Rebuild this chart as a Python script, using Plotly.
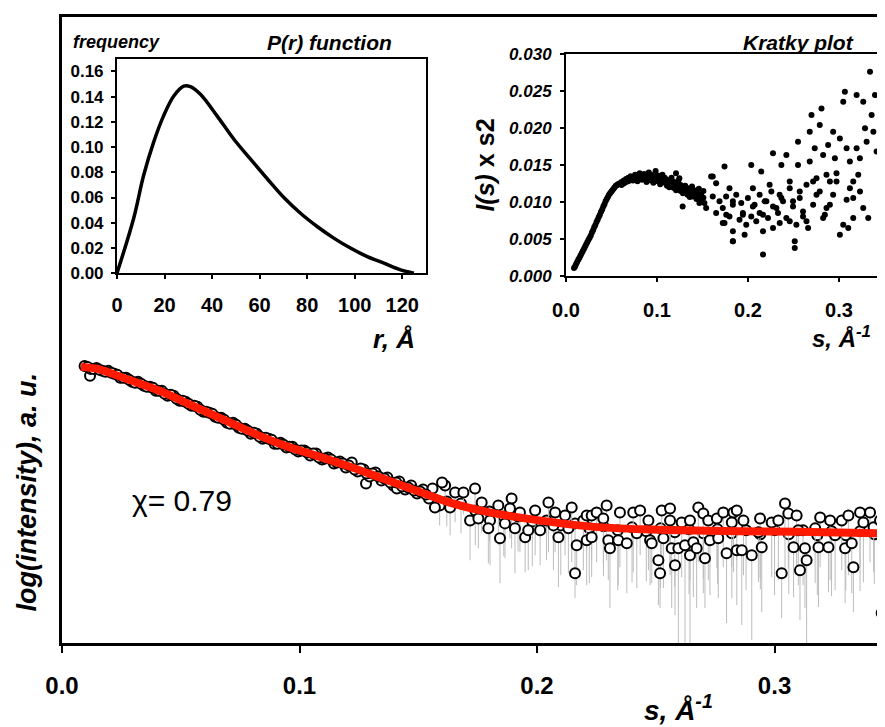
import plotly.graph_objects as go

# ---------------- main curve: log(intensity) vs s ----------------
s_fit = [0.008, 0.015, 0.027, 0.041, 0.055, 0.069, 0.083, 0.095, 0.107, 0.121, 0.135,
         0.149, 0.163, 0.180, 0.201, 0.222, 0.245, 0.2855, 0.31, 0.3465]
i_fit = [2.77, 2.75, 2.65, 2.53, 2.38, 2.23, 2.08, 1.97, 1.88, 1.77, 1.65,
         1.53, 1.41, 1.31, 1.23, 1.17, 1.14, 1.12, 1.115, 1.10]

s_low = [0.0095, 0.0118, 0.012, 0.0145, 0.017, 0.0195, 0.022, 0.0245, 0.027, 0.0295, 0.032,
         0.0345, 0.037, 0.0395, 0.042, 0.0445, 0.047, 0.0495, 0.052, 0.0545, 0.057, 0.0595,
         0.062, 0.0645, 0.067, 0.0695, 0.072, 0.0745, 0.077, 0.0795, 0.082, 0.0845, 0.087,
         0.0895, 0.092, 0.0945, 0.097, 0.0995, 0.102, 0.1045, 0.107, 0.1095, 0.112, 0.1145,
         0.117, 0.1195, 0.122, 0.1245, 0.127, 0.128, 0.1295, 0.132, 0.1345, 0.137, 0.1395,
         0.141, 0.142, 0.1445, 0.147, 0.1495, 0.152, 0.1545, 0.156, 0.157, 0.160]
i_low = [2.78, 2.68, 2.75, 2.76, 2.73, 2.73, 2.70, 2.66, 2.66, 2.62, 2.62,
         2.58, 2.57, 2.53, 2.53, 2.48, 2.48, 2.43, 2.42, 2.38, 2.37, 2.32,
         2.31, 2.27, 2.26, 2.21, 2.21, 2.16, 2.15, 2.10, 2.10, 2.05, 2.05,
         2.00, 2.01, 1.96, 1.97, 1.92, 1.93, 1.88, 1.90, 1.84, 1.86, 1.80,
         1.82, 1.76, 1.81, 1.72, 1.74, 1.60, 1.67, 1.71, 1.63, 1.66, 1.58,
         1.55, 1.62, 1.54, 1.58, 1.50, 1.54, 1.45, 1.55, 1.36, 1.61]

s_low2 = [0.01075, 0.01325, 0.01575, 0.01825, 0.02075, 0.02325, 0.02575, 0.02825, 0.03075,
          0.03325, 0.03575, 0.03825, 0.04075, 0.04325, 0.04575, 0.04825, 0.05075, 0.05325,
          0.05575, 0.05825, 0.06075, 0.06325, 0.06575, 0.06825, 0.07075, 0.07325, 0.07575,
          0.07825, 0.08075, 0.08325, 0.08575, 0.08825, 0.09075, 0.09325, 0.09575, 0.09825,
          0.10075, 0.10325, 0.10575, 0.10825, 0.11075, 0.11325, 0.11575, 0.11825, 0.12075,
          0.12325, 0.12575, 0.12825, 0.13075, 0.13325, 0.13575, 0.13825, 0.14075, 0.14325,
          0.14575, 0.14825, 0.15075, 0.15325]
i_low2 = [2.77, 2.75, 2.74, 2.72, 2.71, 2.69, 2.66, 2.64, 2.61,
          2.60, 2.57, 2.56, 2.53, 2.50, 2.49, 2.45, 2.43, 2.40,
          2.38, 2.34, 2.32, 2.30, 2.26, 2.24, 2.20, 2.19, 2.15,
          2.13, 2.11, 2.07, 2.06, 2.04, 2.00, 1.99, 1.97, 1.94,
          1.93, 1.91, 1.90, 1.86, 1.85, 1.84, 1.81, 1.80, 1.78,
          1.74, 1.75, 1.70, 1.70, 1.67, 1.65, 1.61, 1.61, 1.57,
          1.56, 1.53, 1.52, 1.49]

s_mid = [0.162, 0.168, 0.174, 0.180, 0.186, 0.192, 0.198, 0.204, 0.210, 0.216, 0.222,
         0.228, 0.234, 0.240, 0.246, 0.252, 0.258, 0.264, 0.270, 0.276, 0.282, 0.288,
         0.294, 0.300, 0.306, 0.312, 0.318, 0.324, 0.330, 0.336, 0.342]
i_mid = [1.42, 1.40, 1.33, 1.32, 1.27, 1.27, 1.22, 1.23, 1.18, 1.20, 1.15,
         1.17, 1.13, 1.16, 1.12, 1.15, 1.11, 1.14, 1.10, 1.14, 1.10, 1.13,
         1.09, 1.13, 1.09, 1.13, 1.08, 1.12, 1.08, 1.12, 1.09]
e_mid = [0.25, 0.30, 0.35, 0.30, 0.40, 0.35, 0.45, 0.40, 0.50, 0.45, 0.55,
         0.50, 0.60, 0.55, 0.50, 0.60, 0.55, 0.65, 0.60, 0.55, 0.65, 0.60,
         0.55, 0.65, 0.60, 0.55, 0.60, 0.65, 0.55, 0.60, 0.50]

s_high = [0.1613, 0.1655, 0.1690, 0.1590, 0.1634, 0.1739, 0.1767, 0.1718, 0.1753, 0.1802,
          0.1795, 0.1844, 0.1837, 0.1865, 0.1893, 0.1886, 0.1928, 0.1907, 0.1950, 0.1963,
          0.1992, 0.2013, 0.2048, 0.2076, 0.2069, 0.2090, 0.2118, 0.2146, 0.2132, 0.2167,
          0.2160, 0.2195, 0.2209, 0.2209,
          0.2230, 0.2230, 0.2251, 0.2293, 0.2279, 0.2300, 0.2307, 0.2349, 0.2342, 0.2378,
          0.2405, 0.2434, 0.2420, 0.2469, 0.2476, 0.2483, 0.2511, 0.2518, 0.2525, 0.2532,
          0.2560, 0.2560, 0.2567, 0.2581, 0.2595, 0.2609, 0.2623, 0.2644, 0.2644, 0.2658,
          0.2672, 0.2679, 0.2700, 0.2707, 0.2721, 0.2728, 0.2757, 0.2763, 0.2784, 0.2798,
          0.2827, 0.2820, 0.2841,
          0.2841, 0.2869, 0.2862, 0.2904, 0.2939, 0.2946, 0.2932, 0.2988, 0.3016, 0.3030,
          0.3044, 0.3058, 0.3093, 0.3080, 0.3100, 0.3107, 0.3135, 0.3128, 0.3171, 0.3185,
          0.3192, 0.3227, 0.3234, 0.3255, 0.3283, 0.3297, 0.3311, 0.3332, 0.3325, 0.3360,
          0.3374, 0.3402, 0.3417, 0.3444, 0.3458, 0.3451, 0.3458]
i_high = [1.58, 1.51, 1.51, 1.38, 1.36, 1.55, 1.41, 1.23, 1.25, 1.23,
          1.15, 1.05, 1.38, 1.20, 1.45, 1.35, 1.31, 1.15, 1.06, 1.13,
          1.33, 1.13, 1.41, 1.31, 1.18, 1.06, 1.28, 1.36, 1.15, 0.98,
          0.70, 1.23, 1.03, 1.28,
          1.28, 1.06, 1.31, 1.38, 1.25, 1.03, 0.95, 1.31, 1.03, 1.00,
          1.31, 1.33, 1.10, 1.23, 1.03, 1.00, 0.83, 0.70, 1.33, 1.05,
          1.35, 1.23, 0.95, 0.78, 0.95, 1.21, 0.98, 1.23, 0.88, 1.01,
          0.95, 1.36, 1.30, 0.85, 1.23, 1.03, 1.25, 1.05, 1.31, 0.90,
          1.31, 1.21, 0.93,
          1.33, 1.23, 0.93, 0.88, 1.25, 0.96, 1.11, 1.21, 1.23, 0.70,
          1.40, 1.30, 1.28, 0.96, 1.13, 0.73, 0.83, 0.95, 1.15, 0.96,
          1.26, 0.96, 1.23, 1.08, 1.23, 0.95, 1.28, 0.76, 1.00, 1.31,
          1.21, 1.31, 1.16, 1.23, 0.86, 0.30, 0.53]
e_high = [0.25, 0.30, 0.22, 0.20, 0.28, 0.35, 0.30, 0.40, 0.30, 0.45,
          0.35, 0.45, 0.40, 0.35, 0.50, 0.30, 0.40, 0.45, 0.35, 0.40,
          0.45, 0.35, 0.50, 0.40, 0.45, 0.50, 0.40, 0.55, 0.45, 0.40,
          0.25, 0.50, 0.45, 0.35,
          0.45, 0.40, 0.50, 0.55, 0.45, 0.40, 0.60, 0.55, 0.45, 0.50,
          0.60, 0.45, 0.55, 0.50, 0.45, 0.40, 0.45, 0.35, 0.55, 0.50,
          0.60, 0.55, 0.60, 0.50, 0.95, 0.55, 0.98, 0.60, 0.88, 0.55,
          0.60, 0.55, 0.65, 0.50, 0.60, 0.55, 0.50, 0.60, 0.55, 0.70,
          0.60, 0.45, 0.55,
          0.50, 0.55, 0.75, 0.85, 0.60, 0.65, 0.50, 0.55, 0.60, 0.45,
          0.65, 0.55, 0.60, 0.50, 0.55, 0.50, 0.83, 0.60, 0.55, 0.60,
          0.50, 0.45, 0.60, 0.55, 0.50, 0.55, 0.60, 0.45, 0.50, 0.55,
          0.60, 0.50, 0.45, 0.55, 0.40, 0.20, 0.30]

# ---------------- P(r) inset ----------------
r_vals = [0, 7.0, 11.2, 15.4, 19.6, 23.9, 28.1, 30.9, 35.1, 42.1, 49.1, 56.1, 63.2, 70.2,
          77.2, 84.2, 91.2, 98.2, 105.3, 112.3, 119.3, 124.9]
p_vals = [0.0, 0.0434, 0.0775, 0.1038, 0.1248, 0.1406, 0.1484, 0.148, 0.1419, 0.1248,
          0.1064, 0.0906, 0.0749, 0.0600, 0.0475, 0.0370, 0.0278, 0.0199, 0.0131, 0.0079,
          0.0026, 0.0]

# ---------------- Kratky inset ----------------
k_s = [0.0088, 0.011, 0.0135, 0.016, 0.0185, 0.021, 0.0235, 0.026, 0.0285, 0.031, 0.0335,
       0.036, 0.0385, 0.041, 0.0435, 0.046, 0.0485, 0.051, 0.0535, 0.056, 0.0585,
       0.00995, 0.01225, 0.01475, 0.01725, 0.01975, 0.02225, 0.02475, 0.02725, 0.02975,
       0.03225, 0.03475, 0.03725, 0.03975, 0.04225, 0.04475, 0.04725, 0.04975, 0.05225,
       0.05475, 0.05725,
       0.061, 0.061, 0.0635, 0.0635, 0.066, 0.066, 0.0685, 0.0685, 0.071, 0.071, 0.0735, 0.0735,
       0.076, 0.076, 0.0785, 0.0785, 0.081, 0.081, 0.0835, 0.0835, 0.086, 0.086, 0.0885, 0.0885,
       0.091, 0.091, 0.0935, 0.0935, 0.096, 0.096, 0.0985, 0.0985, 0.101, 0.101, 0.1035, 0.1035,
       0.106, 0.106, 0.1085, 0.1085, 0.111, 0.111, 0.1135, 0.1135, 0.116, 0.116, 0.1185, 0.1185,
       0.121, 0.121, 0.1235, 0.1235, 0.126, 0.126, 0.1285, 0.1285, 0.131, 0.131, 0.1335, 0.1335,
       0.136, 0.136, 0.1385, 0.1385, 0.141, 0.141, 0.1435, 0.1435, 0.146, 0.146, 0.1485, 0.1485,
       0.151, 0.151,
       0.1209, 0.1246, 0.1282, 0.1338, 0.1393, 0.1430, 0.1466, 0.1521, 0.1540, 0.1595, 0.1613,
       0.1650, 0.1687, 0.1723, 0.1742, 0.1760, 0.1797, 0.1834, 0.1834, 0.1871, 0.1907, 0.1926,
       0.1944, 0.1981, 0.1999, 0.2036, 0.2054, 0.2091, 0.2128, 0.2165, 0.2183, 0.2220, 0.2257,
       0.2275, 0.2330, 0.2349, 0.2367, 0.2422,
       0.2459, 0.2495, 0.2532, 0.2569, 0.2605, 0.2643, 0.2661, 0.2716, 0.2753, 0.2789, 0.2826,
       0.2863, 0.2900, 0.2936, 0.2973, 0.3047, 0.3084, 0.3120, 0.3157, 0.3231, 0.3267,
       0.1742, 0.1613, 0.1650, 0.1797, 0.1834, 0.1761, 0.1723, 0.1834, 0.1834, 0.1944, 0.1963,
       0.2036, 0.2054, 0.2073, 0.2128, 0.2146, 0.2165, 0.2165, 0.2202, 0.2238, 0.2275, 0.2275,
       0.2312, 0.2348, 0.2367, 0.2385, 0.2422, 0.2459, 0.2459, 0.2495, 0.2514, 0.2514, 0.2550,
       0.2550, 0.2569, 0.2605, 0.2643, 0.2679, 0.2679, 0.2698, 0.2716, 0.2734, 0.2753, 0.2789,
       0.2808, 0.2826, 0.2845, 0.2863, 0.2881, 0.2900, 0.2936, 0.2955, 0.2973, 0.3010, 0.3010,
       0.3047, 0.3065, 0.3084, 0.3102, 0.3120, 0.3157, 0.3157, 0.3194, 0.3194, 0.3212, 0.3230,
       0.3267, 0.3286, 0.3304, 0.3322, 0.3341, 0.3359, 0.3378, 0.3396, 0.3414, 0.3451, 0.3470,
       0.3470, 0.3470, 0.3488, 0.3488]
k_v = [0.0011, 0.0016, 0.0022, 0.0028, 0.0034, 0.0040, 0.0046, 0.0052, 0.0059, 0.0066, 0.0073,
       0.0080, 0.0087, 0.0094, 0.0101, 0.0107, 0.0112, 0.0116, 0.0120, 0.0123, 0.0125,
       0.0013, 0.0019, 0.0025, 0.0031, 0.0037, 0.0043, 0.0049, 0.0055, 0.0062,
       0.0069, 0.0076, 0.0083, 0.0090, 0.0097, 0.0104, 0.0110, 0.0114, 0.0118,
       0.0122, 0.0124,
       0.0127, 0.0123, 0.0129, 0.0125, 0.0131, 0.0127, 0.0133, 0.0128, 0.0130, 0.0135, 0.0134, 0.0129,
       0.0131, 0.0137, 0.0136, 0.0128, 0.0133, 0.0139, 0.0130, 0.0136, 0.0138, 0.0132, 0.0127, 0.0135,
       0.0134, 0.0140, 0.0129, 0.0137, 0.0135, 0.0126, 0.0132, 0.0142, 0.0128, 0.0136, 0.0133, 0.0124,
       0.0130, 0.0137, 0.0126, 0.0133, 0.0122, 0.0130, 0.0128, 0.0120, 0.0133, 0.0125, 0.0119, 0.0127,
       0.0124, 0.0116, 0.0121, 0.0129, 0.0115, 0.0123, 0.0119, 0.0112, 0.0122, 0.0114, 0.0110, 0.0118,
       0.0116, 0.0107, 0.0121, 0.0112, 0.0109, 0.0116, 0.0113, 0.0104, 0.0118, 0.0108, 0.0111, 0.0101,
       0.0106, 0.0115,
       0.0139, 0.01323, 0.00942, 0.01188, 0.01076, 0.01144, 0.00986, 0.00986, 0.00919, 0.01345, 0.01076,
       0.00852, 0.0101, 0.00919, 0.00717, 0.01076, 0.00807, 0.00471, 0.00964, 0.0110, 0.00762, 0.00986,
       0.00852, 0.00695, 0.01054, 0.00807, 0.00942, 0.0074, 0.00852, 0.00605, 0.0101, 0.00785, 0.01144,
       0.00942, 0.00852, 0.00717, 0.01054, 0.00785,
       0.01188, 0.00942, 0.00695, 0.01054, 0.00807, 0.01234, 0.0065, 0.00964, 0.01323, 0.01144, 0.00785,
       0.00919, 0.01278, 0.0110, 0.0139, 0.00695, 0.01032, 0.01188, 0.00785, 0.01144, 0.00919,
       0.0148, 0.01345, 0.01255, 0.01188, 0.0101, 0.0083, 0.00717, 0.00605, 0.00471, 0.0083, 0.0056,
       0.0150, 0.01188, 0.00964, 0.0110, 0.01413, 0.0083, 0.00292, 0.0101, 0.01234, 0.0065, 0.0166,
       0.0092, 0.0110, 0.0150, 0.0101, 0.01637, 0.01278, 0.0074, 0.0101, 0.00471, 0.0038, 0.01816,
       0.0150, 0.01144, 0.00874, 0.0074, 0.0195, 0.01547, 0.02175, 0.01278, 0.01726, 0.0110, 0.0204,
       0.02264, 0.01637, 0.0083, 0.01368, 0.01772, 0.00964, 0.0195, 0.01592, 0.01278, 0.0186, 0.0056,
       0.02354, 0.02489, 0.01726, 0.0065, 0.01547, 0.01054, 0.01278, 0.02444, 0.01726, 0.01368, 0.01592,
       0.02354, 0.01996, 0.01816, 0.00785, 0.02758, 0.02175, 0.0195, 0.02444, 0.01682, 0.00292, 0.00471,
       0.0101, 0.01278, 0.02534, 0.0204]

FONT = "Liberation Sans, Arial, sans-serif"
ERR_COLOR = "#bcbcbc"

fig = go.Figure()

circle = dict(symbol="circle", size=10, color="white", line=dict(color="black", width=2))

fig.add_trace(go.Scatter(
    x=s_mid, y=i_mid, mode="markers", xaxis="x", yaxis="y", marker=circle,
    error_y=dict(type="data", symmetric=False, array=[0.05] * len(s_mid), arrayminus=e_mid,
                 color=ERR_COLOR, thickness=1, width=0),
    showlegend=False, hoverinfo="skip"))

fig.add_trace(go.Scatter(
    x=s_high, y=i_high, mode="markers", xaxis="x", yaxis="y", marker=circle,
    error_y=dict(type="data", symmetric=False, array=[0.05] * len(s_high), arrayminus=e_high,
                 color=ERR_COLOR, thickness=1, width=0),
    showlegend=False, hoverinfo="skip"))

fig.add_trace(go.Scatter(
    x=s_low + s_low2, y=i_low + i_low2, mode="markers", xaxis="x", yaxis="y", marker=circle,
    showlegend=False, hoverinfo="skip"))

fig.add_trace(go.Scatter(
    x=s_fit, y=i_fit, mode="lines", xaxis="x", yaxis="y",
    line=dict(color="#ff1a00", width=8, shape="spline", smoothing=0.8),
    showlegend=False, hoverinfo="skip"))

fig.add_trace(go.Scatter(
    x=r_vals, y=p_vals, mode="lines", xaxis="x2", yaxis="y2",
    line=dict(color="black", width=3.5, shape="spline", smoothing=1.0),
    showlegend=False, hoverinfo="skip"))

fig.add_trace(go.Scatter(
    x=k_s, y=k_v, mode="markers", xaxis="x3", yaxis="y3",
    marker=dict(symbol="circle", size=6, color="black"),
    showlegend=False, hoverinfo="skip"))

bold = dict(family=FONT, color="black", weight="bold")
bold_it = dict(family=FONT, color="black", weight="bold", style="italic")

# the page body adds an 8 px offset, so the figure is 8 px smaller and shifted
fig.update_layout(
    width=877, height=719,
    margin=dict(l=54, r=0, t=7, b=84),
    paper_bgcolor="white", plot_bgcolor="white",
    showlegend=False,
    xaxis=dict(domain=[0, 1], range=[0, 0.3465], anchor="y",
               tickvals=[0, 0.1, 0.2, 0.3], ticktext=["0.0", "0.1", "0.2", "0.3"],
               ticks="outside", ticklen=7, tickwidth=2, tickcolor="black",
               showline=True, linecolor="black", linewidth=2.5, mirror=True,
               showgrid=False, zeroline=False, ticklabelstandoff=12,
               tickfont=dict(size=24, **bold)),
    yaxis=dict(domain=[0, 1], range=[0, 6.28], anchor="x",
               showticklabels=False, ticks="", showline=True, linecolor="black",
               linewidth=2.5, showgrid=False, zeroline=False),
    xaxis2=dict(domain=[0.0668, 0.4423], range=[0, 130], anchor="y2",
                tickvals=[0, 20, 40, 60, 80, 100, 120],
                ticks="outside", ticklen=4, tickwidth=1.5, tickcolor="black",
                showline=True, linecolor="black", linewidth=2, mirror=True,
                showgrid=False, zeroline=False, ticklabelstandoff=9,
                tickfont=dict(size=20, **bold)),
    yaxis2=dict(domain=[0.5908, 0.9331], range=[0, 0.17], anchor="x2",
                tickvals=[0, 0.02, 0.04, 0.06, 0.08, 0.10, 0.12, 0.14, 0.16],
                ticktext=["0.00", "0.02", "0.04", "0.06", "0.08", "0.10", "0.12", "0.14", "0.16"],
                ticks="outside", ticklen=4, tickwidth=1.5, tickcolor="black",
                showline=True, linecolor="black", linewidth=2, mirror=True,
                showgrid=False, zeroline=False, ticklabelstandoff=4,
                tickfont=dict(size=17, **bold)),
    xaxis3=dict(domain=[0.6124, 1.0], range=[0, 0.3506], anchor="y3",
                tickvals=[0, 0.1, 0.2, 0.3], ticktext=["0.0", "0.1", "0.2", "0.3"],
                ticks="outside", ticklen=4, tickwidth=1.5, tickcolor="black",
                showline=True, linecolor="black", linewidth=2, mirror=True,
                showgrid=False, zeroline=False, ticklabelstandoff=11,
                tickfont=dict(size=20, **bold)),
    yaxis3=dict(domain=[0.586, 0.941], range=[0, 0.030], anchor="x3",
                tickvals=[0, 0.005, 0.010, 0.015, 0.020, 0.025, 0.030],
                ticktext=["0.000", "0.005", "0.010", "0.015", "0.020", "0.025", "0.030"],
                ticks="outside", ticklen=4, tickwidth=1.5, tickcolor="black",
                showline=True, linecolor="black", linewidth=2, mirror=False,
                showgrid=False, zeroline=False, ticklabelstandoff=5,
                tickfont=dict(size=17, **bold_it)),
)

annotations = [
    dict(text="frequency", x=0.0668, y=0.960, xanchor="center", yanchor="middle",
         font=dict(size=18, **bold_it)),
    dict(text="P(r) function", x=0.3256, y=0.960, xanchor="center", yanchor="middle",
         font=dict(size=21, **bold_it)),
    dict(text="Kratky plot", x=0.8943, y=0.9586, xanchor="center", yanchor="middle",
         font=dict(size=21, **bold_it)),
    dict(text="r, Å", x=0.4313, y=0.4857, xanchor="right", yanchor="middle",
         font=dict(size=26, **bold_it)),
    dict(text="s, Å<sup>-1</sup>", x=0.985, y=0.4889, xanchor="right", yanchor="middle",
         font=dict(size=24, **bold_it)),
    dict(text="<i>I(s)</i> x s2", x=0.514, y=0.7627, xanchor="center", yanchor="middle",
         textangle=-90, font=dict(size=25, **bold)),
    dict(text="s, Å<sup>-1</sup>", x=0.7485, y=-0.1035, xanchor="center", yanchor="middle",
         font=dict(size=28, **bold_it)),
    dict(text="log(intensity), a. u.", x=-0.0437, y=0.2404, xanchor="center", yanchor="middle",
         textangle=-90, font=dict(size=27, **bold_it)),
    dict(text="χ= 0.79", x=0.1458, y=0.2277, xanchor="center", yanchor="middle",
         font=dict(size=30, family=FONT, color="black")),
]
for a in annotations:
    a.update(xref="paper", yref="paper", showarrow=False)
fig.update_layout(annotations=annotations)

fig.write_html("out.html")
